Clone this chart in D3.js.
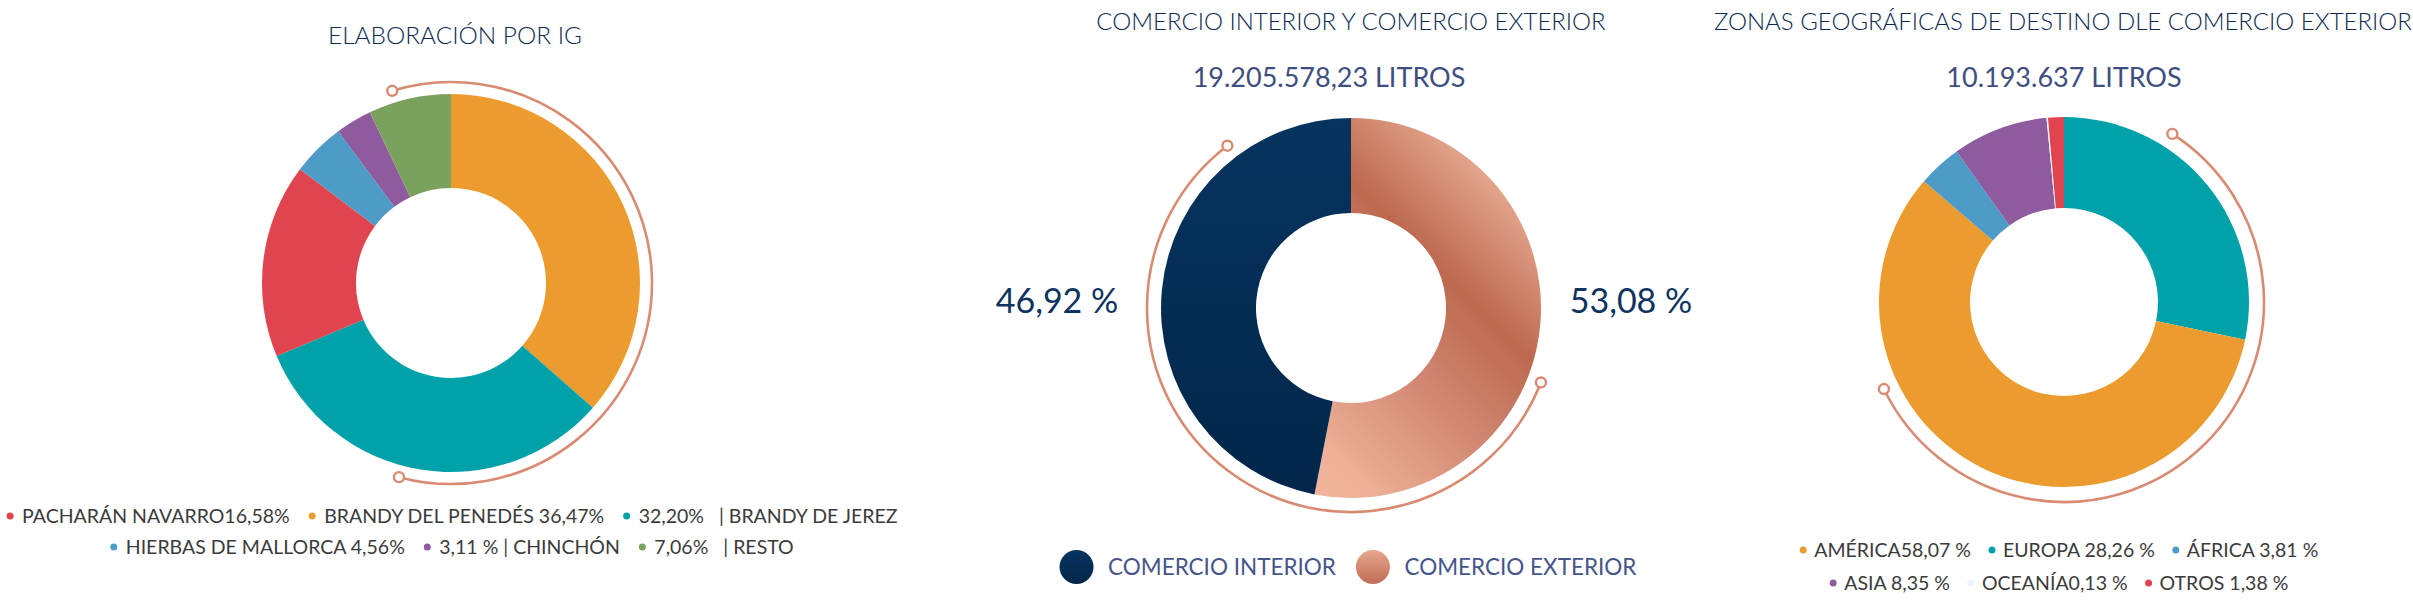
<!DOCTYPE html>
<html>
<head>
<meta charset="utf-8">
<script src="https://cdn.jsdelivr.net/npm/d3@7/dist/d3.min.js"></script>
<style>
  body { margin: 0; background: #fff; }
  text { font-family: Lato, "Open Sans", sans-serif; white-space: pre; }
</style>
</head>
<body>
<div id="content"></div>
<script>
// --- data (arrays are in drawing order, clockwise from 12 o'clock) ---
let igNames = ["BRANDY DEL PENEDÉS", "BRANDY DE JEREZ", "PACHARÁN NAVARRO", "HIERBAS DE MALLORCA", "CHINCHÓN", "RESTO"];
let igValues = [36.47, 32.20, 16.58, 4.56, 3.11, 7.06];
let igLegend = ["BRANDY DEL PENEDÉS 36,47%", "32,20%   | BRANDY DE JEREZ", "PACHARÁN NAVARRO16,58%",
                "HIERBAS DE MALLORCA 4,56%", "3,11 % | CHINCHÓN", "7,06%   | RESTO"];
let igLegendRows = [[2, 0, 1], [3, 4, 5]];
let igColors = ["#ec9c2e", "#00a1a9", "#e0444f", "#4f9bc7", "#8e5b9e", "#7ba15f"];

let comercioNames = ["COMERCIO EXTERIOR", "COMERCIO INTERIOR"];
let comercioValues = [53.08, 46.92];
let comercioLabels = ["53,08 %", "46,92 %"];
let comercioLegendRows = [[1, 0]];
let comercioTotal = "19.205.578,23 LITROS";

let zonaNames = ["EUROPA", "AMÉRICA", "ÁFRICA", "ASIA", "OCEANÍA", "OTROS"];
let zonaValues = [28.26, 58.07, 3.81, 8.35, 0.13, 1.38];
let zonaLegend = ["EUROPA 28,26 %", "AMÉRICA58,07 %", "ÁFRICA 3,81 %", "ASIA 8,35 %", "OCEANÍA0,13 %", "OTROS 1,38 %"];
let zonaLegendRows = [[1, 0, 2], [3, 4, 5]];
let zonaColors = ["#00a1a9", "#ec9c2e", "#4f9bc7", "#8e5b9e", "#eef4f8", "#e0444f"];
let zonaTotal = "10.193.637 LITROS";

let width = 2413;
let height = 616;
let deco = "#d98b72";
let rad = Math.PI / 180;

let svg = d3.select("#content").append("svg")
            .attr("width", width)
            .attr("height", height);
svg.append("rect").attr("width", width).attr("height", height).attr("fill", "#fff");
let defs = svg.append("defs");

// gradients for the middle chart
let navy = defs.append("linearGradient").attr("id", "navy")
               .attr("x1", 0).attr("y1", 0).attr("x2", 0).attr("y2", 1);
navy.append("stop").attr("offset", 0).attr("stop-color", "#06345f");
navy.append("stop").attr("offset", 1).attr("stop-color", "#03264a");

// diagonal copper sheen, coordinates relative to the donut centre
function copperGradient(id, r) {
  let d = r / Math.SQRT2;
  let g = defs.append("linearGradient").attr("id", id)
              .attr("gradientUnits", "userSpaceOnUse")
              .attr("x1", d).attr("y1", -d)
              .attr("x2", -d).attr("y2", d);
  [[0, "#e2a58c"], [0.26, "#bd6950"], [0.5, "#d08670"], [0.82, "#eeb197"], [1, "#f2b99e"]]
    .forEach(s => g.append("stop").attr("offset", s[0]).attr("stop-color", s[1]));
}
let copperDot = defs.append("linearGradient").attr("id", "copperDot")
                    .attr("x1", 0).attr("y1", 0).attr("x2", 0).attr("y2", 1);
copperDot.append("stop").attr("offset", 0).attr("stop-color", "#e6a68e");
copperDot.append("stop").attr("offset", 1).attr("stop-color", "#bf6d56");


function drawDonut(values, fills, cx, cy, rOut, rIn) {
  let pie = d3.pie().sort(null).value(d => d);
  let arc = d3.arc().innerRadius(rIn).outerRadius(rOut);
  let g = svg.append("g").attr("transform", `translate(${cx},${cy})`);
  g.selectAll("path").data(pie(values)).enter().append("path")
   .attr("d", arc)
   .attr("fill", (d, i) => fills[i]);
  return g;
}


// thin copper ring with small hollow circles at both ends
function drawDeco(cx, cy, r, a0, a1) {
  let p = d3.path();
  p.arc(cx, cy, r, (a0 - 90) * rad, (a1 - 90) * rad);
  svg.append("path").attr("d", p.toString())
     .attr("fill", "none").attr("stroke", deco).attr("stroke-width", 2.6);
  [a0, a1].forEach(a => {
    svg.append("circle")
       .attr("cx", cx + r * Math.sin(a * rad))
       .attr("cy", cy - r * Math.cos(a * rad))
       .attr("r", 5)
       .attr("fill", "#fff").attr("stroke", deco).attr("stroke-width", 2.4);
  });
}


function drawLegendRow(items, cx, y, opts) {
  let row = svg.append("g");
  let x = 0;
  items.forEach(it => {
    row.append("circle").attr("cx", x + opts.dotR).attr("cy", y)
       .attr("r", opts.dotR).attr("fill", it.color);
    let t = row.append("text").attr("x", x + opts.dotR * 2 + opts.pad).attr("y", y)
               .attr("dy", "0.36em")
               .attr("font-size", opts.size)
               .attr("fill", opts.textColor)
               .text(it.text);
    x += opts.dotR * 2 + opts.pad + t.node().getComputedTextLength() + opts.gap;
  });
  let w = x - opts.gap;
  row.attr("transform", `translate(${cx - w / 2},0)`);
}


function title(text, x, y, size) {
  svg.append("text").attr("x", x).attr("y", y).attr("dy", "0.36em")
     .attr("text-anchor", "middle")
     .attr("font-size", size).attr("font-weight", 300)
     .attr("fill", "#0c2a52").text(text);
}

function subtitle(text, x, y) {
  svg.append("text").attr("x", x).attr("y", y).attr("dy", "0.36em")
     .attr("text-anchor", "middle")
     .attr("font-size", 27)
     .attr("fill", "#3f4e80").text(text);
}


// ---------- chart 1: elaboración por IG ----------
let c1 = {x: 451, y: 283};
title("ELABORACIÓN POR IG", c1.x + 4, 35, 24.4);
drawDeco(c1.x, c1.y, 201, -17, 195);
drawDonut(igValues, igColors, c1.x, c1.y, 189, 95);
igLegendRows.forEach((rowIdx, k) => {
  drawLegendRow(rowIdx.map(i => ({text: igLegend[i], color: igColors[i]})),
                c1.x + 1, 516 + k * 31,
                {dotR: 3.5, pad: 8.5, gap: 19, size: 19.5, textColor: "#3b3b3b"});
});


// ---------- chart 2: comercio interior / exterior ----------
let c2 = {x: 1351, y: 308};
title("COMERCIO INTERIOR Y COMERCIO EXTERIOR", c2.x, 21, 24);
subtitle(comercioTotal, c2.x - 22, 77);
copperGradient("copper", 190);
drawDeco(c2.x, c2.y, 204, 111.4, 322.7);
drawDonut(comercioValues, ["url(#copper)", "url(#navy)"], c2.x, c2.y, 190, 95);
svg.append("text").attr("x", c2.x - 294).attr("y", c2.y - 7).attr("dy", "0.36em")
   .attr("text-anchor", "middle").attr("font-size", 34).attr("fill", "#0d3360")
   .text(comercioLabels[1]);
svg.append("text").attr("x", c2.x + 280).attr("y", c2.y - 7).attr("dy", "0.36em")
   .attr("text-anchor", "middle").attr("font-size", 34).attr("fill", "#0d3360")
   .text(comercioLabels[0]);
drawLegendRow(comercioLegendRows[0].map(i => ({text: comercioNames[i], color: i ? "url(#navy)" : "url(#copperDot)"})),
              c2.x - 3, 567,
              {dotR: 17, pad: 14.5, gap: 20, size: 22.5, textColor: "#46558a"});


// ---------- chart 3: zonas geográficas ----------
let c3 = {x: 2064, y: 302};
title("ZONAS GEOGRÁFICAS DE DESTINO DLE COMERCIO EXTERIOR", c3.x - 1, 21, 24);
subtitle(zonaTotal, c3.x, 77);
drawDeco(c3.x, c3.y, 200, 32.8, 244.2);
drawDonut(zonaValues, zonaColors, c3.x, c3.y, 185, 94);
zonaLegendRows.forEach((rowIdx, k) => {
  drawLegendRow(rowIdx.map(i => ({text: zonaLegend[i], color: zonaColors[i]})),
                c3.x - 5, 550 + k * 33,
                {dotR: 3.5, pad: 7.5, gap: 17.5, size: 19.5, textColor: "#3b3b3b"});
});
</script>
</body>
</html>
